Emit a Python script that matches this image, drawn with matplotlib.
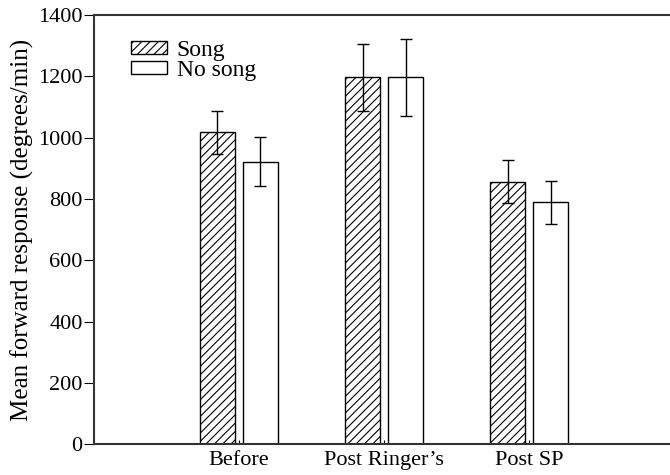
import numpy as np
import matplotlib
matplotlib.use("Agg")
import matplotlib.pyplot as plt

plt.rcParams['font.family'] = ['Liberation Serif', 'DejaVu Serif']
plt.rcParams['hatch.linewidth'] = 0.8

groups = ["Before", "Post Ringer\u2019s", "Post SP"]
song = [1018, 1197, 856]
song_err = [70, 110, 70]
nosong = [922, 1197, 790]
nosong_err = [79, 125, 70]

fig = plt.figure(figsize=(6.7, 4.75), dpi=100)
ax = fig.add_axes([0.140, 0.065, 0.86, 0.903])

x = np.arange(len(groups))
w = 0.24
off = 0.148
ekw = dict(ecolor='black', elinewidth=1, capsize=4.3, capthick=1)
ax.bar(x - off, song, w, yerr=song_err, color='white', edgecolor='black',
       hatch='////', linewidth=1, label='Song', error_kw=ekw)
ax.bar(x + off, nosong, w, yerr=nosong_err, color='white', edgecolor='black',
       linewidth=1, label='No song', error_kw=ekw)

ax.set_xlim(-1, 2.97)
ax.set_ylim(0, 1400)
ax.set_yticks(range(0, 1401, 200))
ax.set_xticks(x)
ax.set_xticklabels(groups, fontsize=16)
ax.tick_params(axis='x', direction='in', length=3, pad=5)
ax.tick_params(axis='y', direction='out', length=7, labelsize=16, pad=1)
ax.set_ylabel("Mean forward response (degrees/min)", fontsize=18, labelpad=3)

for s in ['left', 'bottom', 'top']:
    ax.spines[s].set_color('#333333')
    ax.spines[s].set_linewidth(1.5)
ax.spines['right'].set_visible(False)

ax.legend(loc='upper left', bbox_to_anchor=(0.064, 0.942), frameon=False,
          fontsize=17, handlelength=1.55, handleheight=0.5, labelspacing=-0.05,
          handletextpad=0.4, borderaxespad=0, borderpad=0)

fig.savefig("out.png", dpi=100)
